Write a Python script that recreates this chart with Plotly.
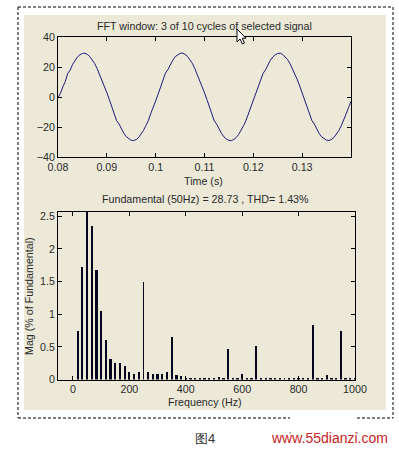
import plotly.graph_objects as go

W, H = 399, 452

# ---------------- data ----------------
time_start = 0.08
time_step = 0.0005
signal_values = [
    -0.5, 2.5, 6.8, 10.4, 15.8, 18.0, 21.8, 24.6, 26.8, 28.2,
    29.0, 29.2, 28.4, 27.0, 25.0, 22.4, 19.0, 15.0, 11.8, 7.5,
    2.9, -1.6, -6.0, -10.5, -15.8, -18.0, -21.5, -24.3, -26.5, -28.0,
    -28.9, -29.0, -28.4, -27.0, -25.0, -22.3, -19.0, -15.8, -11.0, -7.3,
    -2.6, 1.9, 6.5, 10.6, 15.9, 18.2, 21.9, 24.5, 26.9, 28.3,
    29.1, 29.3, 28.5, 27.1, 25.1, 22.5, 19.1, 15.1, 11.7, 7.4,
    2.8, -1.7, -6.2, -10.6, -15.9, -18.1, -21.6, -24.4, -26.6, -28.1,
    -28.9, -29.1, -28.3, -27.0, -24.9, -22.4, -19.1, -15.6, -11.2, -7.2,
    -2.7, 1.8, 6.4, 10.7, 15.8, 18.1, 21.8, 24.6, 26.7, 28.2,
    29.0, 29.2, 28.4, 27.0, 25.0, 22.3, 19.0, 15.1, 11.6, 7.3,
    2.8, -1.8, -6.3, -10.7, -15.8, -18.0, -21.7, -24.5, -26.6, -28.0,
    -28.8, -29.0, -28.3, -27.0, -25.0, -22.4, -19.2, -15.7, -11.3, -7.1,
    -2.8,
]
time_values = [round(time_start + i * time_step, 5) for i in range(len(signal_values))]

harmonic_freqs = [round(k * 50 / 3, 2) for k in range(1, 61)]
harmonic_mags = [
    0.75, 1.73, 100.0, 2.35, 1.67, 1.05, 0.60, 0.31, 0.26, 0.26,
    0.21, 0.11, 0.09, 0.12, 1.49, 0.12, 0.09, 0.09, 0.09, 0.11,
    0.65, 0.07, 0.06, 0.03, 0.03, 0.02, 0.03, 0.02, 0.02, 0.02,
    0.04, 0.03, 0.47, 0.02, 0.02, 0.08, 0.03, 0.03, 0.52, 0.03,
    0.02, 0.03, 0.03, 0.02, 0.02, 0.02, 0.02, 0.03, 0.02, 0.02,
    0.83, 0.03, 0.02, 0.07, 0.02, 0.03, 0.74, 0.02, 0.02, 0.02,
]

time_ticks = [0.08, 0.09, 0.1, 0.11, 0.12, 0.13]
time_ticklabels = ["0.08", "0.09", "0.1", "0.11", "0.12", "0.13"]
sig_ticks = [-40, -20, 0, 20, 40]
freq_ticks = [0, 200, 400, 600, 800, 1000]
mag_ticks = [0, 0.5, 1, 1.5, 2, 2.5]
mag_ticklabels = ["0", "0.5", "1", "1.5", "2", "2.5"]

title_top = "FFT window: 3 of 10 cycles of selected signal"
title_bottom = "Fundamental (50Hz) = 28.73 , THD= 1.43%"

# ---------------- helpers ----------------
def fx(px):
    return px / W

def fy(py):
    return 1 - py / H

FONT = "Liberation Sans, Arial, sans-serif"
TXT = "#2a2a2a"
FS = 10.7

# bars at odd multiples of 50 Hz render as thin lines in the reference
bar_widths = [6.0 if (abs(f / 50 - round(f / 50)) < 1e-6 and round(f / 50) % 2 == 1) else 8.0
              for f in harmonic_freqs]

fig = go.Figure()

fig.add_trace(go.Scatter(
    x=time_values, y=signal_values, mode="lines",
    line=dict(color="#1c1c78", width=1),
    xaxis="x", yaxis="y", showlegend=False, hoverinfo="skip",
))

fig.add_trace(go.Bar(
    x=harmonic_freqs, y=harmonic_mags, width=bar_widths,
    marker=dict(color="#05051e", line=dict(width=0)),
    xaxis="x2", yaxis="y2", showlegend=False, hoverinfo="skip",
))

axis_common = dict(
    showline=True, linecolor="#000000", linewidth=1, mirror="ticks",
    ticks="inside", ticklen=4, tickcolor="#000000", tickwidth=1,
    showgrid=False, zeroline=False, automargin=False,
    tickfont=dict(family=FONT, size=FS, color=TXT),
)

fig.update_layout(
    width=W, height=H,
    margin=dict(l=0, r=0, t=0, b=0),
    paper_bgcolor="#ffffff",
    plot_bgcolor="#ffffff",
    font=dict(family=FONT, size=FS, color=TXT),
    bargap=0,
    hovermode=False,
    xaxis=dict(domain=[fx(58), fx(351)], range=[0.08, 0.14],
               tickvals=time_ticks, ticktext=time_ticklabels, anchor="y",
               **axis_common),
    yaxis=dict(domain=[fy(157), fy(37)], range=[-40, 40],
               tickvals=sig_ticks, anchor="x", **axis_common),
    xaxis2=dict(domain=[fx(58), fx(355)], range=[-53, 1000],
                tickvals=freq_ticks, anchor="y2", **axis_common),
    yaxis2=dict(domain=[fy(379.5), fy(212)], range=[0, 2.565],
                tickvals=mag_ticks, ticktext=mag_ticklabels, anchor="x2",
                **axis_common),
)

shapes = [
    # beige panel
    dict(type="rect", xref="paper", yref="paper", x0=fx(24), x1=fx(386), y0=fy(410), y1=fy(15),
         fillcolor="#ECE9D8", line=dict(width=0), layer="below"),
]
dash = dict(color="#000000", width=1, dash="3px,2px")
for (x0, y0, x1, y1) in [(18, 7, 393, 7), (18, 7, 18, 418), (393, 7, 393, 418),
                         (18, 418, 290, 418), (357, 418, 393, 418)]:
    shapes.append(dict(type="line", xref="paper", yref="paper",
                       x0=fx(x0), y0=fy(y0), x1=fx(x1), y1=fy(y1), line=dash, layer="below"))
for px in (290, 357):
    shapes.append(dict(type="rect", xref="paper", yref="paper",
                       x0=fx(px - 0.5), x1=fx(px + 0.5), y0=fy(433.5), y1=fy(432.5),
                       fillcolor="#000000", line=dict(width=0)))

# mouse cursor arrow near the top title
cursor_pts = [(0, 0), (0, 13), (3, 10), (5.5, 15), (7.5, 14), (5.2, 9.2), (9, 9.2)]
cx, cy = 237, 29
path = "M " + " L ".join(f"{fx(cx + px):.5f},{fy(cy + py):.5f}" for px, py in cursor_pts) + " Z"
shapes.append(dict(type="path", xref="paper", yref="paper", path=path,
                   fillcolor="#ffffff", line=dict(color="#000000", width=1)))
fig.update_layout(shapes=shapes)

ann = [
    dict(text=title_top, x=fx(204.5), y=fy(26), size=FS, color=TXT),
    dict(text="Time (s)", x=fx(203), y=fy(181), size=FS, color=TXT),
    dict(text=title_bottom, x=fx(205.5), y=fy(199), size=FS, color=TXT),
    dict(text="Frequency (Hz)", x=fx(205), y=fy(402), size=FS, color=TXT),
    dict(text="图4", x=fx(205), y=fy(438), size=13, color="#333333"),
    dict(text="www.55dianzi.com", x=fx(329), y=fy(438), size=14, color="#c8231e"),
]
annotations = [
    dict(text=a["text"], x=a["x"], y=a["y"], xref="paper", yref="paper",
         xanchor="center", yanchor="middle", showarrow=False,
         font=dict(family=FONT, size=a["size"], color=a["color"]))
    for a in ann
]
annotations.append(dict(text="Mag (% of Fundamental)", x=fx(29), y=fy(296),
                        xref="paper", yref="paper", xanchor="center", yanchor="middle",
                        showarrow=False, textangle=-90,
                        font=dict(family=FONT, size=FS, color=TXT)))
fig.update_layout(annotations=annotations)

fig.write_html(
    "out.html",
    config={"displayModeBar": False, "staticPlot": True},
    post_script="document.body.style.margin='0';document.body.style.overflow='hidden';",
)
